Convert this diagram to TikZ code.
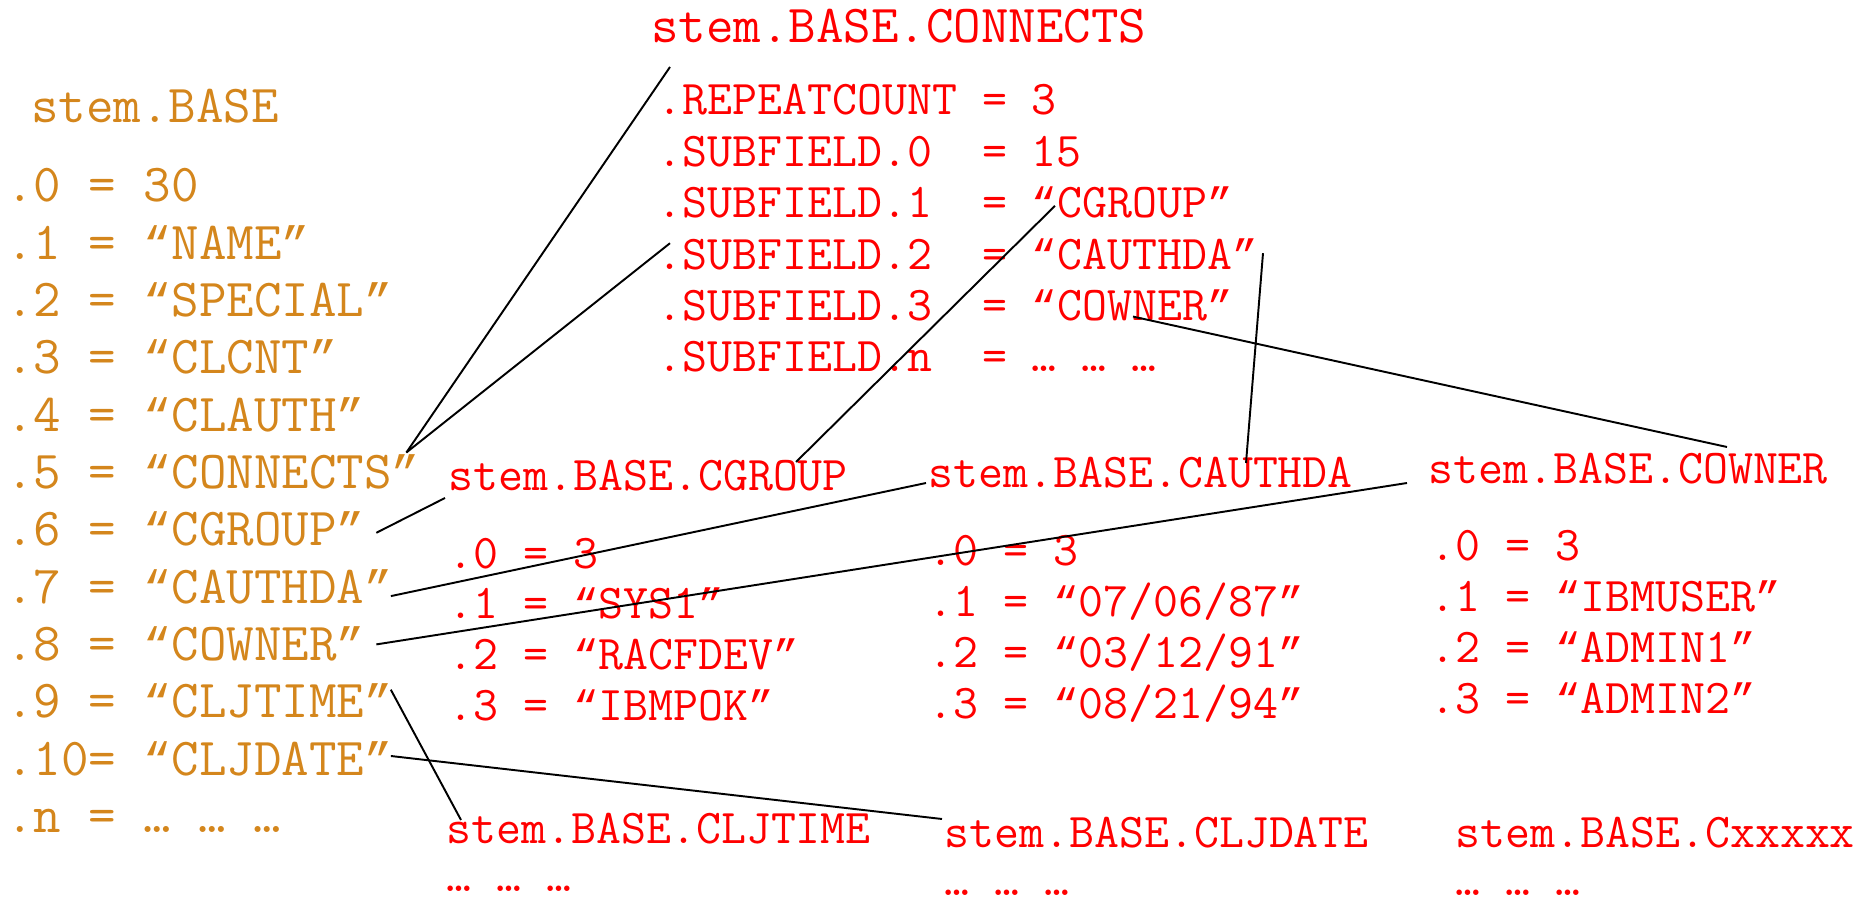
\documentclass[tikz,border=0pt]{standalone}
\usepackage{fontspec}
\newfontfamily\qfont[Scale=0.875]{Liberation Mono}
\usepackage{tikz}
\usetikzlibrary{calc}
\definecolor{baseorange}{RGB}{212,134,28}
\newcommand{\bigmono}{\ttfamily\fontsize{30.4}{36}\selectfont}
\newcommand{\smallmono}{\ttfamily\fontsize{27.6}{33}\selectfont}
\newcommand{\oq}{{\qfont “}}
\newcommand{\cq}{{\qfont ”}}
\tikzstyle{basetxt} = [anchor=base west, inner sep=0pt, text=baseorange, font=\bigmono]
\tikzstyle{stemhead} = [anchor=base west, inner sep=0pt, text=red, font=\bigmono]
\tikzstyle{subtxt} = [anchor=base west, inner sep=0pt, text=red, font=\smallmono]
\tikzstyle{wire} = [line width=1.1pt, black]

\begin{document}
\begin{tikzpicture}[x=0.02cm, y=-0.02cm]
\useasboundingbox (0,0) rectangle (1872,905);

% the base stem
\node (base) [basetxt] at (31,123) {stem.BASE};
\foreach \t [count=\i from 0] in {{.0 = 30},{.1 = \oq NAME\cq},{.2 = \oq SPECIAL\cq},{.3 = \oq CLCNT\cq},{.4 = \oq CLAUTH\cq},{.5 = \oq CONNECTS\cq},{.6 = \oq CGROUP\cq},{.7 = \oq CAUTHDA\cq},{.8 = \oq COWNER\cq},{.9 = \oq CLJTIME\cq},{.10= \oq CLJDATE\cq},{.n = … … …}}
  \node (b\i) [basetxt] at (6,{202+57.3*\i}) {\t};

% connects segment
\node (conn) [stemhead] at (651,43) {stem.BASE.CONNECTS};
\foreach \t [count=\i from 0] in {{.REPEATCOUNT = 3},{.SUBFIELD.0~~= 15},{.SUBFIELD.1~~= \oq CGROUP\cq},{.SUBFIELD.2~~= \oq CAUTHDA\cq},{.SUBFIELD.3~~= \oq COWNER\cq},{.SUBFIELD.n~~= … … …}}
  \node (s\i) [subtxt] at (657,{115+51.4*\i}) {\t};

% repeat group fields
\node (g) [subtxt] at (448,490) {stem.BASE.CGROUP};
\foreach \t [count=\i from 0] in {{.0 = 3},{.1 = \oq SYS1\cq},{.2 = \oq RACFDEV\cq},{.3 = \oq IBMPOK\cq}}
  \node (g\i) [subtxt] at (448,{568+50.7*\i}) {\t};

\node (a) [subtxt] at (928,487) {stem.BASE.CAUTHDA};
\foreach \t [count=\i from 0] in {{.0 = 3},{.1 = \oq 07/06/87\cq},{.2 = \oq 03/12/91\cq},{.3 = \oq 08/21/94\cq}}
  \node (a\i) [subtxt] at (928,{565+51*\i}) {\t};

\node (o) [subtxt] at (1428,483) {stem.BASE.COWNER};
\foreach \t [count=\i from 0] in {{.0 = 3},{.1 = \oq IBMUSER\cq},{.2 = \oq ADMIN1\cq},{.3 = \oq ADMIN2\cq}}
  \node (o\i) [subtxt] at (1430,{560+51.3*\i}) {\t};

\node (t) [subtxt] at (446,843) {stem.BASE.CLJTIME};
\node (tn) [subtxt] at (446,891) {… … …};
\node (d) [subtxt] at (944,847) {stem.BASE.CLJDATE};
\node (dn) [subtxt] at (944,895) {… … …};
\node (x) [subtxt] at (1455,847) {stem.BASE.Cxxxxx};
\node (xn) [subtxt] at (1455,895) {… … …};

% pointers
\draw [wire] ([shift={(-14,-36)}]b5.base east) -- ([shift={(19,24)}]conn.base west);
\draw [wire] ([shift={(-14,-36)}]b5.base east) -- ([shift={(13,-26)}]s3.base west);
\draw [wire] ([shift={(11,-13)}]b6.base east) -- ([shift={(-3,8)}]g.base west);
\draw [wire] ([shift={(-2,-7)}]b7.base east) -- ([shift={(-2,-4)}]a.base west);
\draw [wire] ([shift={(11,-16)}]b8.base east) -- ([shift={(-21,0)}]o.base west);
\draw [wire] ([shift={(-2,-28)}]b9.base east) -- ([shift={(15,-23)}]t.base west);
\draw [wire] ([shift={(-2,-19)}]b10.base east) -- ([shift={(-2,-28)}]d.base west);
\draw [wire] ([shift={(348,-28)}]g.base west) -- ([shift={(398,-12)}]s2.base west);
\draw [wire] ([shift={(318,-24)}]a.base west) -- ([shift={(606,-16)}]s3.base west);
\draw [wire] ([shift={(299,-36)}]o.base west) -- ([shift={(476,-4)}]s4.base west);

\end{tikzpicture}
\end{document}
